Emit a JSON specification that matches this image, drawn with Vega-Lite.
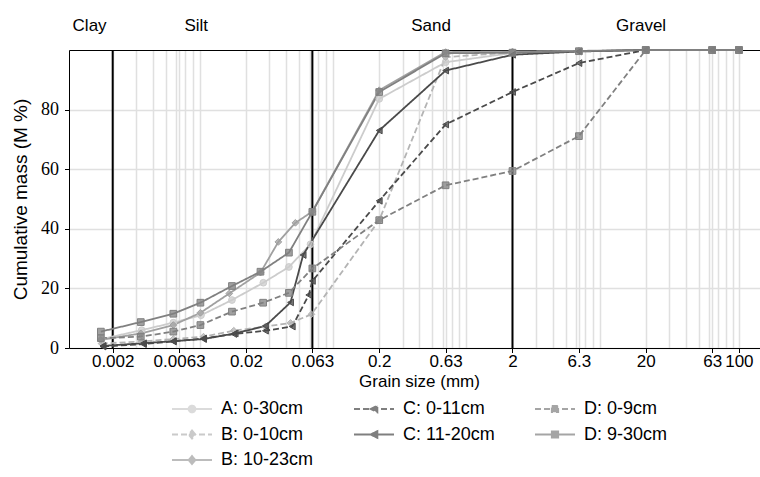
{
  "$schema": "https://vega.github.io/schema/vega-lite/v6.json",
  "autosize": {"type": "none"},
  "padding": {"left": 69, "top": 50, "right": 0, "bottom": 129},
  "width": 691,
  "height": 298,
  "datasets": {
    "grain": [
      {"s": "A: 0-30cm", "d": 0.00165, "m": 3.0},
      {"s": "A: 0-30cm", "d": 0.0033, "m": 6.0},
      {"s": "A: 0-30cm", "d": 0.0057, "m": 8.5},
      {"s": "A: 0-30cm", "d": 0.0092, "m": 11.0},
      {"s": "A: 0-30cm", "d": 0.0157, "m": 16.1},
      {"s": "A: 0-30cm", "d": 0.027, "m": 21.9},
      {"s": "A: 0-30cm", "d": 0.042, "m": 27.2},
      {"s": "A: 0-30cm", "d": 0.061, "m": 34.8},
      {"s": "A: 0-30cm", "d": 0.2, "m": 83.6},
      {"s": "A: 0-30cm", "d": 0.63, "m": 95.9},
      {"s": "A: 0-30cm", "d": 2, "m": 99.0},
      {"s": "A: 0-30cm", "d": 6.3, "m": 99.6},
      {"s": "A: 0-30cm", "d": 20, "m": 100},
      {"s": "A: 0-30cm", "d": 63, "m": 100},
      {"s": "A: 0-30cm", "d": 100, "m": 100},
      {"s": "B: 0-10cm", "d": 0.00165, "m": 1.5},
      {"s": "B: 0-10cm", "d": 0.0033, "m": 2.2},
      {"s": "B: 0-10cm", "d": 0.0057, "m": 3.0},
      {"s": "B: 0-10cm", "d": 0.0096, "m": 3.8},
      {"s": "B: 0-10cm", "d": 0.0162, "m": 5.8},
      {"s": "B: 0-10cm", "d": 0.028, "m": 7.2},
      {"s": "B: 0-10cm", "d": 0.0432, "m": 8.4},
      {"s": "B: 0-10cm", "d": 0.062, "m": 11.3},
      {"s": "B: 0-10cm", "d": 0.2, "m": 42.9},
      {"s": "B: 0-10cm", "d": 0.63, "m": 97.6},
      {"s": "B: 0-10cm", "d": 2, "m": 99.2},
      {"s": "B: 0-10cm", "d": 6.3, "m": 99.6},
      {"s": "B: 0-10cm", "d": 20, "m": 100},
      {"s": "B: 0-10cm", "d": 63, "m": 100},
      {"s": "B: 0-10cm", "d": 100, "m": 100},
      {"s": "B: 10-23cm", "d": 0.00163, "m": 2.7},
      {"s": "B: 10-23cm", "d": 0.00325, "m": 4.9},
      {"s": "B: 10-23cm", "d": 0.0057, "m": 7.7},
      {"s": "B: 10-23cm", "d": 0.0091, "m": 11.8},
      {"s": "B: 10-23cm", "d": 0.015, "m": 18.3},
      {"s": "B: 10-23cm", "d": 0.0257, "m": 25.3},
      {"s": "B: 10-23cm", "d": 0.035, "m": 35.6},
      {"s": "B: 10-23cm", "d": 0.047, "m": 42.0},
      {"s": "B: 10-23cm", "d": 0.063, "m": 45.8},
      {"s": "B: 10-23cm", "d": 0.2, "m": 86.5},
      {"s": "B: 10-23cm", "d": 0.63, "m": 99.3},
      {"s": "B: 10-23cm", "d": 2, "m": 99.5},
      {"s": "B: 10-23cm", "d": 6.3, "m": 99.7},
      {"s": "B: 10-23cm", "d": 20, "m": 100},
      {"s": "B: 10-23cm", "d": 63, "m": 100},
      {"s": "B: 10-23cm", "d": 100, "m": 100},
      {"s": "C: 0-11cm", "d": 0.00169, "m": 0.5},
      {"s": "C: 0-11cm", "d": 0.0034, "m": 1.3},
      {"s": "C: 0-11cm", "d": 0.0057, "m": 2.2},
      {"s": "C: 0-11cm", "d": 0.0096, "m": 3.2},
      {"s": "C: 0-11cm", "d": 0.0162, "m": 4.7},
      {"s": "C: 0-11cm", "d": 0.028, "m": 5.8},
      {"s": "C: 0-11cm", "d": 0.0445, "m": 7.2},
      {"s": "C: 0-11cm", "d": 0.0592, "m": 17.8},
      {"s": "C: 0-11cm", "d": 0.063, "m": 22.5},
      {"s": "C: 0-11cm", "d": 0.2, "m": 49.4},
      {"s": "C: 0-11cm", "d": 0.63, "m": 75.0},
      {"s": "C: 0-11cm", "d": 2, "m": 85.9},
      {"s": "C: 0-11cm", "d": 6.3, "m": 95.6},
      {"s": "C: 0-11cm", "d": 20, "m": 100},
      {"s": "C: 0-11cm", "d": 63, "m": 100},
      {"s": "C: 0-11cm", "d": 100, "m": 100},
      {"s": "C: 11-20cm", "d": 0.00169, "m": 0.7},
      {"s": "C: 11-20cm", "d": 0.0034, "m": 1.6},
      {"s": "C: 11-20cm", "d": 0.0057, "m": 2.3},
      {"s": "C: 11-20cm", "d": 0.0096, "m": 3.0},
      {"s": "C: 11-20cm", "d": 0.0166, "m": 4.9},
      {"s": "C: 11-20cm", "d": 0.028, "m": 7.4},
      {"s": "C: 11-20cm", "d": 0.0432, "m": 15.3},
      {"s": "C: 11-20cm", "d": 0.0537, "m": 31.2},
      {"s": "C: 11-20cm", "d": 0.2, "m": 73.0},
      {"s": "C: 11-20cm", "d": 0.63, "m": 93.1},
      {"s": "C: 11-20cm", "d": 2, "m": 98.4},
      {"s": "C: 11-20cm", "d": 6.3, "m": 99.5},
      {"s": "C: 11-20cm", "d": 20, "m": 100},
      {"s": "C: 11-20cm", "d": 63, "m": 100},
      {"s": "C: 11-20cm", "d": 100, "m": 100},
      {"s": "D: 0-9cm", "d": 0.00163, "m": 3.3},
      {"s": "D: 0-9cm", "d": 0.00325, "m": 3.8},
      {"s": "D: 0-9cm", "d": 0.0057, "m": 5.5},
      {"s": "D: 0-9cm", "d": 0.0091, "m": 7.7},
      {"s": "D: 0-9cm", "d": 0.0157, "m": 12.2},
      {"s": "D: 0-9cm", "d": 0.0269, "m": 15.2},
      {"s": "D: 0-9cm", "d": 0.042, "m": 18.5},
      {"s": "D: 0-9cm", "d": 0.063, "m": 26.7},
      {"s": "D: 0-9cm", "d": 0.2, "m": 42.9},
      {"s": "D: 0-9cm", "d": 0.63, "m": 54.6},
      {"s": "D: 0-9cm", "d": 2, "m": 59.4},
      {"s": "D: 0-9cm", "d": 6.3, "m": 71.1},
      {"s": "D: 0-9cm", "d": 20, "m": 100},
      {"s": "D: 0-9cm", "d": 63, "m": 100},
      {"s": "D: 0-9cm", "d": 100, "m": 100},
      {"s": "D: 9-30cm", "d": 0.00163, "m": 5.5},
      {"s": "D: 9-30cm", "d": 0.00325, "m": 8.7},
      {"s": "D: 9-30cm", "d": 0.0057, "m": 11.5},
      {"s": "D: 9-30cm", "d": 0.0091, "m": 15.2},
      {"s": "D: 9-30cm", "d": 0.0157, "m": 20.8},
      {"s": "D: 9-30cm", "d": 0.0257, "m": 25.6},
      {"s": "D: 9-30cm", "d": 0.042, "m": 32.0},
      {"s": "D: 9-30cm", "d": 0.063, "m": 45.7},
      {"s": "D: 9-30cm", "d": 0.2, "m": 85.9},
      {"s": "D: 9-30cm", "d": 0.63, "m": 98.9},
      {"s": "D: 9-30cm", "d": 2, "m": 99.1},
      {"s": "D: 9-30cm", "d": 6.3, "m": 99.6},
      {"s": "D: 9-30cm", "d": 20, "m": 100},
      {"s": "D: 9-30cm", "d": 63, "m": 100},
      {"s": "D: 9-30cm", "d": 100, "m": 100}
    ],
    "bounds": [{"b": 0.002}, {"b": 0.063}, {"b": 2}]
  },
  "resolve": {"axis": {"x": "independent"}},
  "layer": [
    {
      "data": {"name": "grain"},
      "transform": [{"filter": "false"}],
      "mark": {"type": "point", "filled": true, "strokeWidth": 1.8},
      "encoding": {
        "color": {
          "field": "s", "type": "nominal",
          "scale": {
            "domain": ["A: 0-30cm", "C: 0-11cm", "D: 0-9cm", "B: 0-10cm", "C: 11-20cm", "D: 9-30cm", "B: 10-23cm"],
            "range": ["#cccccc", "#4a4a4a", "#808080", "#b4b4b4", "#4a4a4a", "#808080", "#a0a0a0"]
          },
          "legend": {"title": null, "orient": "none", "legendX": 102, "legendY": 351, "columns": 3, "direction": "horizontal", "symbolSize": 1600, "symbolStrokeWidth": 1.8, "symbolStrokeColor": "black", "symbolFillColor": "black", "clipHeight": 16, "rowPadding": 7.5, "columnPadding": 39, "labelOffset": 8, "labelFont": "Liberation Sans", "labelFontSize": 18, "labelColor": "black", "padding": 0, "symbolOffset": 0}
        },
        "stroke": {
          "field": "s", "type": "nominal",
          "scale": {
            "domain": ["A: 0-30cm", "C: 0-11cm", "D: 0-9cm", "B: 0-10cm", "C: 11-20cm", "D: 9-30cm", "B: 10-23cm"],
            "range": ["#cccccc", "#4a4a4a", "#808080", "#b4b4b4", "#4a4a4a", "#808080", "#a0a0a0"]
          },
          "legend": {"title": null, "orient": "none", "legendX": 102, "legendY": 351, "columns": 3, "direction": "horizontal", "symbolSize": 1600, "symbolStrokeWidth": 1.8, "symbolStrokeColor": "black", "symbolFillColor": "black", "clipHeight": 16, "rowPadding": 7.5, "columnPadding": 39, "labelOffset": 8, "labelFont": "Liberation Sans", "labelFontSize": 18, "labelColor": "black", "padding": 0, "symbolOffset": 0}
        },
        "strokeDash": {
          "field": "s", "type": "nominal",
          "scale": {
            "domain": ["A: 0-30cm", "C: 0-11cm", "D: 0-9cm", "B: 0-10cm", "C: 11-20cm", "D: 9-30cm", "B: 10-23cm"],
            "range": [[1, 0], [6, 3], [6, 3], [6, 3], [1, 0], [1, 0], [1, 0]]
          },
          "legend": {"title": null, "orient": "none", "legendX": 102, "legendY": 351, "columns": 3, "direction": "horizontal", "symbolSize": 1600, "symbolStrokeWidth": 1.8, "symbolStrokeColor": "black", "symbolFillColor": "black", "clipHeight": 16, "rowPadding": 7.5, "columnPadding": 39, "labelOffset": 8, "labelFont": "Liberation Sans", "labelFontSize": 18, "labelColor": "black", "padding": 0, "symbolOffset": 0}
        },
        "shape": {
          "field": "s", "type": "nominal",
          "scale": {
            "domain": ["A: 0-30cm", "C: 0-11cm", "D: 0-9cm", "B: 0-10cm", "C: 11-20cm", "D: 9-30cm", "B: 10-23cm"],
            "range": [
              "M-1,0H1M0.17,0A0.17,0.17,0,1,1,-0.17,0A0.17,0.17,0,1,1,0.17,0Z",
              "M-1,0H1M-0.17,0L0.17,-0.17L0.17,0.17Z",
              "M-1,0H1M-0.16,-0.16H0.16V0.16H-0.16Z",
              "M-1,0H1M0,-0.2L0.17,0L0,0.2L-0.17,0Z",
              "M-1,0H1M-0.17,0L0.17,-0.17L0.17,0.17Z",
              "M-1,0H1M-0.16,-0.16H0.16V0.16H-0.16Z",
              "M-1,0H1M0,-0.2L0.17,0L0,0.2L-0.17,0Z"
            ]
          },
          "legend": {"title": null, "orient": "none", "legendX": 102, "legendY": 351, "columns": 3, "direction": "horizontal", "symbolSize": 1600, "symbolStrokeWidth": 1.8, "symbolStrokeColor": "black", "symbolFillColor": "black", "clipHeight": 16, "rowPadding": 7.5, "columnPadding": 39, "labelOffset": 8, "labelFont": "Liberation Sans", "labelFontSize": 18, "labelColor": "black", "padding": 0, "symbolOffset": 0}
        }
      }
    },
    {
      "data": {"name": "bounds"},
      "mark": {"type": "rule", "color": "black", "strokeWidth": 2},
      "encoding": {
        "x": {
          "field": "b", "type": "quantitative",
          "scale": {"type": "log", "domain": [0.00094, 144], "nice": false},
          "axis": {
            "orient": "top", "values": [0.00133, 0.0084, 0.485, 18.3],
            "labelExpr": "datum.value < 0.002 ? 'Clay' : datum.value < 0.063 ? 'Silt' : datum.value < 2 ? 'Sand' : 'Gravel'",
            "ticks": false, "tickSize": 0, "grid": false, "domain": true, "domainWidth": 1,
            "title": null, "labelPadding": 20, "labelBaseline": "alphabetic",
            "labelFontSize": 17, "labelFlush": false, "labelOverlap": false
          }
        }
      }
    },
    {
      "data": {"name": "grain"},
      "mark": {"type": "line", "strokeWidth": 1.8},
      "encoding": {
        "x": {
          "field": "d", "type": "quantitative",
          "scale": {"type": "log", "domain": [0.00094, 144], "nice": false},
          "axis": {
            "orient": "bottom",
            "values": [0.003, 0.004, 0.005, 0.006, 0.007, 0.008, 0.009, 0.03, 0.04, 0.05, 0.06, 0.07, 0.08, 0.09, 0.3, 0.4, 0.5, 0.6, 0.7, 0.8, 0.9, 3, 4, 5, 6, 7, 8, 9, 30, 40, 50, 60, 70, 80, 90],
            "grid": true, "ticks": false, "labels": false, "domain": false, "title": null
          }
        },
        "y": {
          "field": "m", "type": "quantitative",
          "scale": {"domain": [0, 100], "nice": false},
          "axis": {
            "values": [0, 20, 40, 60, 80], "grid": true, "tickSize": 4.5, "labelPadding": 6,
            "title": "Cumulative mass (M %)", "titlePadding": 10, "titleFontSize": 19,
            "labelFont": "Liberation Serif", "labelFontSize": 18
          }
        },
        "color": {
          "field": "s", "type": "nominal", "legend": null,
          "scale": {
            "domain": ["A: 0-30cm", "C: 0-11cm", "D: 0-9cm", "B: 0-10cm", "C: 11-20cm", "D: 9-30cm", "B: 10-23cm"],
            "range": ["#cccccc", "#4a4a4a", "#808080", "#b4b4b4", "#4a4a4a", "#808080", "#a0a0a0"]
          }
        },
        "strokeDash": {
          "field": "s", "type": "nominal", "legend": null,
          "scale": {
            "domain": ["A: 0-30cm", "C: 0-11cm", "D: 0-9cm", "B: 0-10cm", "C: 11-20cm", "D: 9-30cm", "B: 10-23cm"],
            "range": [[1, 0], [6, 3], [6, 3], [6, 3], [1, 0], [1, 0], [1, 0]]
          }
        }
      }
    },
    {
      "data": {"name": "grain"},
      "mark": {"type": "point", "filled": true, "size": 45, "strokeWidth": 1, "fillOpacity": 0.75, "opacity": 1},
      "encoding": {
        "x": {
          "field": "d", "type": "quantitative",
          "scale": {"type": "log", "domain": [0.00094, 144], "nice": false},
          "axis": {
            "orient": "bottom",
            "values": [0.002, 0.0063, 0.02, 0.063, 0.2, 0.63, 2, 6.3, 20, 63, 100],
            "format": "~g", "grid": true, "tickSize": 4.5, "labelPadding": 1,
            "title": "Grain size (mm)", "titlePadding": 4, "titleX": 350,
            "labelFlush": false, "labelOverlap": false, "domainWidth": 1
          }
        },
        "y": {
          "field": "m", "type": "quantitative",
          "scale": {"domain": [0, 100], "nice": false},
          "axis": {
            "values": [0, 20, 40, 60, 80], "grid": true, "tickSize": 4.5, "labelPadding": 6,
            "title": "Cumulative mass (M %)", "titlePadding": 10, "titleFontSize": 19,
            "labelFont": "Liberation Serif", "labelFontSize": 18
          }
        },
        "color": {
          "field": "s", "type": "nominal", "legend": null,
          "scale": {
            "domain": ["A: 0-30cm", "C: 0-11cm", "D: 0-9cm", "B: 0-10cm", "C: 11-20cm", "D: 9-30cm", "B: 10-23cm"],
            "range": ["#cccccc", "#4a4a4a", "#808080", "#b4b4b4", "#4a4a4a", "#808080", "#a0a0a0"]
          }
        },
        "stroke": {
          "field": "s", "type": "nominal", "legend": null,
          "scale": {
            "domain": ["A: 0-30cm", "C: 0-11cm", "D: 0-9cm", "B: 0-10cm", "C: 11-20cm", "D: 9-30cm", "B: 10-23cm"],
            "range": ["#cccccc", "#4a4a4a", "#808080", "#b4b4b4", "#4a4a4a", "#808080", "#a0a0a0"]
          }
        },
        "shape": {
          "condition": [
            {"test": {"field": "s", "oneOf": ["A: 0-30cm"]}, "value": "circle"},
            {"test": {"field": "s", "oneOf": ["B: 0-10cm", "B: 10-23cm"]}, "value": "diamond"},
            {"test": {"field": "s", "oneOf": ["C: 0-11cm", "C: 11-20cm"]}, "value": "triangle-left"}
          ],
          "value": "square"
        }
      }
    }
  ],
  "config": {
    "view": {"stroke": null},
    "font": "Liberation Sans",
    "axis": {
      "labelFont": "Liberation Sans", "titleFont": "Liberation Sans",
      "labelFontSize": 17, "titleFontSize": 17, "titleFontWeight": "normal",
      "labelColor": "black", "titleColor": "black",
      "gridColor": "#e0e0e0", "gridWidth": 1.5,
      "domainColor": "black", "tickColor": "black", "domainWidth": 1
    }
  }
}
